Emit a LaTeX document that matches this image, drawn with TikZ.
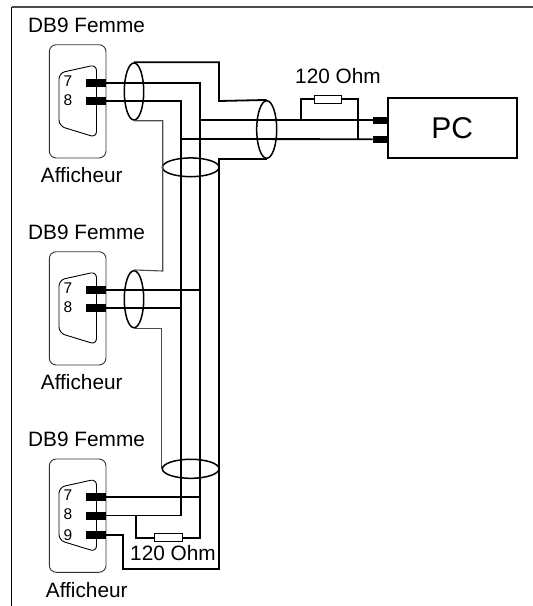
\documentclass[tikz,border=0pt]{standalone}
\usepackage{fontspec}
\setmainfont{Liberation Sans}
\usepackage{amsmath}
\usetikzlibrary{shapes.geometric}

\tikzset{
  wire/.style={line width=1.8pt,black},
  shield/.style={line width=1.1pt,black!70},
  gaine/.style={draw,ellipse,line width=1.5pt,inner sep=0pt},
  pin/.style={fill=black,inner sep=0pt,minimum width=19.5pt,minimum height=8pt},
  pcpin/.style={fill=black,inner sep=0pt,minimum width=15pt,minimum height=7pt},
  resist/.style={draw,fill=white,line width=1.1pt,inner sep=0pt,minimum width=27.5pt,minimum height=8pt},
  txt/.style={anchor=base west,inner sep=0pt,font=\fontsize{20.8}{24}\selectfont},
  num/.style={inner sep=0pt,font=\fontsize{15.5}{18}\selectfont},
}

\begin{document}
\begin{tikzpicture}[x=1pt,y=-1pt]
\useasboundingbox (0,0) rectangle (533,606);

% cadre
\draw[line width=1.4pt,black!70] (533,7) -- (11.7,7);
\draw[line width=1.1pt] (11.7,6.5) -- (11.7,606);

% connecteurs
\foreach \dy/\n/\dx in {0/a/0,207/b/0,414.3/c/5} {
  \node[txt] at (28,32+\dy) {DB9 Femme};
  \node[txt] at (40.7+\dx,182.7+\dy) {Afficheur};
  \draw[line width=0.9pt,black!80,rounded corners=7pt] (49.3,44.7+\dy) rectangle (106,158+\dy);
  \draw[line width=0.9pt,rounded corners=6pt] (59,73+\dy) -- (96.5,64.7+\dy) -- (96.5,137.5+\dy) -- (59,126+\dy) -- cycle;
  \node[pin] (p\n7) at (96.2,82.7+\dy) {};
  \node[pin] (p\n8) at (96.2,101.2+\dy) {};
  \node[num] at (68,81+\dy) {7};
  \node[num] at (68,100+\dy) {8};
}
\node[pin] (pc9) at (96.2,534.9) {};
\node[num] at (68,534.7) {9};

% gaines
\node[gaine,minimum width=19.4pt,minimum height=57pt] (ea) at (134,91.5) {};
\node[gaine,minimum width=19.4pt,minimum height=57pt] (eb) at (134,299.2) {};
\node[gaine,minimum width=20pt,minimum height=57.6pt] (et) at (266.7,129.5) {};
\node[gaine,minimum width=56.7pt,minimum height=18.7pt] (eh) at (190.7,167.3) {};
\node[gaine,minimum width=56.7pt,minimum height=19pt] (ec) at (190.7,468.8) {};

% PC
\node[draw,line width=1.6pt,minimum width=129pt,minimum height=60pt,inner sep=0pt,font=\fontsize{30}{34}\selectfont] (pc) at (452.2,127.7) {PC};
\node[pcpin] (pcone) at (380.2,120) {};
\node[pcpin] (pctwo) at (380.2,139.2) {};

% resistances
\node[resist] (rt) at (328,99.2) {};
\node[resist] (rb) at (168.3,537.8) {};
\node[txt] at (295,83) {120 Ohm};
\node[txt] at (130,560.7) {120 Ohm};

\coordinate (wa) at (200,120);
\coordinate (wb) at (181,139);
\coordinate (ra) at (301,120);
\coordinate (rc) at (358,139);
\coordinate (rd) at (136,516);
\coordinate (cl) at (123,568.7);
\coordinate (cr) at (219,568.7);
\coordinate (sa) at (219,101);
\coordinate (sb) at (162.7,271);

% fils
\draw[wire] (pa7.east) -| (wa) |- (rb.east);
\draw[wire] (wa) -- (pcone.west);
\draw[wire] (pb7.east) -- (pb7.east -| wa);
\draw[wire] (pc7.east) -- (pc7.east -| wa);
\draw[wire] (pa8.east) -| (wb) |- (pc8.east);
\draw[wire] (wb) -- (pctwo.west);
\draw[wire] (pb8.east) -- (pb8.east -| wb);
\draw[wire] (ra) |- (rt.west);
\draw[wire] (rt.east) -| (rc);
\draw[wire] (rb.west) -| (rd);
\draw[wire] (pc9.east) -| (cl) -- (cr) |- (et.south);
\draw[wire] (ea.north) -| (sa) -- (et.north);
\draw[shield] (ea.south) -| (sb) -- (eb.north);
\draw[shield] (eb.south) -| (ec.west);
\end{tikzpicture}
\end{document}
